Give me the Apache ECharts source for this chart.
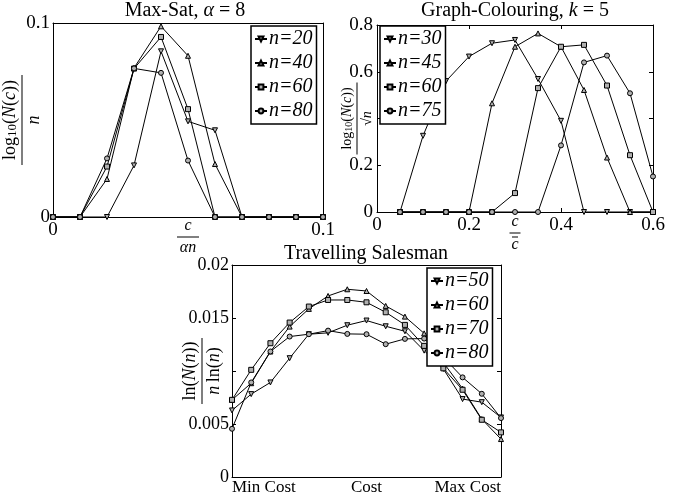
<!DOCTYPE html>
<html>
<head>
<meta charset="utf-8">
<script src="https://cdn.jsdelivr.net/npm/echarts@6/dist/echarts.min.js"></script>
<style>
  html, body { margin: 0; padding: 0; background: #fff; }
  #main { width: 689px; height: 498px; }
</style>
</head>
<body>
<div id="main"></div>
<script>
// Max-Sat, alpha = 8
var maxSatX = [0, 0.01, 0.02, 0.03, 0.04, 0.05, 0.06, 0.07, 0.08, 0.09, 0.1];
var maxSat20 = [0, 0, 0, 0.0266, 0.0854, 0.0493, 0.0447, 0, 0, 0, 0];
var maxSat40 = [0, 0, 0.0196, 0.0768, 0.0983, 0.0831, 0.0273, 0, 0, 0, 0];
var maxSat60 = [0, 0, 0.0260, 0.0765, 0.0928, 0.0556, 0, 0, 0, 0, 0];
var maxSat80 = [0, 0, 0.0302, 0.0766, 0.0743, 0.0291, 0, 0, 0, 0, 0];

// Graph-Colouring, k = 5
var gcX = [0.05, 0.1, 0.15, 0.2, 0.25, 0.3, 0.35, 0.4, 0.45, 0.5, 0.55, 0.6];
var gc30 = [0, 0.326, 0.56, 0.665, 0.722, 0.736, 0.569, 0.39, 0, 0, 0, 0];
var gc45 = [0, 0, 0, 0, 0.465, 0.707, 0.764, 0.707, 0.522, 0.233, 0, 0];
var gc60 = [0, 0, 0, 0, 0, 0.081, 0.53, 0.707, 0.715, 0.541, 0.243, 0];
var gc75 = [0, 0, 0, 0, 0, 0, 0, 0.285, 0.64, 0.669, 0.508, 0.152];

// Travelling Salesman (cost steps from min to max)
var tspX = [0, 1, 2, 3, 4, 5, 6, 7, 8, 9, 10, 11, 12, 13, 14];
var tspTickLabels = ['Min Cost', 'Cost', 'Max Cost'];
var tsp50 = [0.00628, 0.00782, 0.00892, 0.01121, 0.01347, 0.0136, 0.01432, 0.01476, 0.01422, 0.01375, 0.01192, 0.0102, 0.00735, 0.00706, 0.00562];
var tsp60 = [0.00728, 0.00885, 0.01184, 0.01419, 0.01586, 0.01708, 0.01771, 0.01755, 0.01614, 0.01513, 0.01355, 0.0108, 0.00834, 0.00546, 0.00358];
var tsp70 = [0.00728, 0.01011, 0.01262, 0.01457, 0.01608, 0.0167, 0.0167, 0.01648, 0.01554, 0.01435, 0.01237, 0.01025, 0.00823, 0.0054, 0.00421];
var tsp80 = [0.00455, 0.00892, 0.01184, 0.01325, 0.01347, 0.01381, 0.0135, 0.01347, 0.01253, 0.01303, 0.01306, 0.0113, 0.0094, 0.00785, 0.00556];

var SERIF = 'Liberation Serif';
var DOWN = 'path://M0,0L10,0L5,9Z';

function pairs(xs, ys) {
  return xs.map(function (x, i) { return [x, ys[i]]; });
}

function line(name, grid, xs, ys, symbol) {
  return {
    type: 'line',
    name: name,
    xAxisIndex: grid * 2,
    yAxisIndex: grid * 2,
    data: pairs(xs, ys),
    symbol: symbol,
    symbolSize: 5,
    showSymbol: true,
    lineStyle: { color: '#000', width: 1 },
    itemStyle: { color: '#b0b0b0', borderColor: '#000', borderWidth: 1 },
    emphasis: { disabled: true },
    animation: false,
    z: 3
  };
}

function lbl(size, margin) {
  return { fontFamily: SERIF, fontSize: size, color: '#000', margin: margin };
}
var axisLineStyle = { show: true, onZero: false, lineStyle: { color: '#000', width: 1 } };
var tickIn = { show: true, inside: true, length: 4, lineStyle: { color: '#000' } };

function mainX(grid, min, max, interval, extra) {
  return Object.assign({
    type: 'value', gridIndex: grid, position: 'bottom',
    min: min, max: max, interval: interval,
    axisLine: axisLineStyle, axisTick: tickIn,
    axisLabel: lbl(19, 4),
    splitLine: { show: false },
    nameMoveOverlap: false
  }, extra || {});
}
function mirrorX(grid, min, max, interval, ticks) {
  return {
    type: 'value', gridIndex: grid, position: 'top',
    min: min, max: max, interval: interval,
    axisLine: axisLineStyle,
    axisTick: Object.assign({}, tickIn, { show: ticks }),
    axisLabel: { show: false },
    splitLine: { show: false }
  };
}
function mainY(grid, min, max, interval, extra) {
  return Object.assign({
    type: 'value', gridIndex: grid, position: 'left',
    min: min, max: max, interval: interval,
    axisLine: axisLineStyle, axisTick: tickIn,
    axisLabel: lbl(19, 3),
    splitLine: { show: false },
    nameMoveOverlap: false
  }, extra || {});
}
function mirrorY(grid, min, max, interval) {
  return {
    type: 'value', gridIndex: grid, position: 'right',
    min: min, max: max, interval: interval,
    axisLine: axisLineStyle, axisTick: tickIn,
    axisLabel: { show: false },
    splitLine: { show: false }
  };
}

function fracRich(size, barWidth) {
  return {
    f: { fontFamily: SERIF, fontSize: size, color: '#000' },
    i: { fontFamily: SERIF, fontSize: size, fontStyle: 'italic', color: '#000' },
    sub: { fontFamily: SERIF, fontSize: Math.round(size * 0.7), color: '#000', verticalAlign: 'bottom' },
    bar: { width: barWidth, height: 1, lineHeight: 6, backgroundColor: '#000' },
    obar: { width: 6, height: 1, lineHeight: 2, backgroundColor: '#000' },
    ci: { fontFamily: SERIF, fontSize: size, fontStyle: 'italic', color: '#000', lineHeight: size * 0.8 }
  };
}

function legendFor(names, left, top) {
  return {
    data: names,
    left: left, top: top,
    orient: 'vertical',
    itemWidth: 12, itemHeight: 6, itemGap: 4,
    padding: [3, 4, 3, 3],
    backgroundColor: '#fff',
    borderColor: '#000', borderWidth: 1.5, borderRadius: 0,
    selectedMode: false,
    formatter: function (n) { return n.split('|')[1]; },
    textStyle: { fontFamily: SERIF, fontSize: 20, fontStyle: 'italic', color: '#000', padding: [0, 0, 0, -3] }
  };
}

var titleStyle = { fontFamily: SERIF, fontSize: 20, fontWeight: 'normal', color: '#000' };
var titleRich = {
  i: { fontFamily: SERIF, fontSize: 20, fontStyle: 'italic', color: '#000' }
};

var option = {
  backgroundColor: '#fff',
  animation: false,
  title: [
    { text: 'Max-Sat, {i|α} = 8', left: 185, top: 1, textAlign: 'center', padding: 0,
      textStyle: Object.assign({ rich: titleRich }, titleStyle) },
    { text: 'Graph-Colouring, {i|k} = 5', left: 515, top: 1, textAlign: 'center', padding: 0,
      textStyle: Object.assign({ rich: titleRich }, titleStyle) },
    { text: 'Travelling Salesman', left: 366, top: 244, textAlign: 'center', padding: 0,
      textStyle: titleStyle }
  ],
  grid: [
    { left: 48, top: 23, width: 275, height: 194 },
    { left: 377, top: 25, width: 276, height: 187 },
    { left: 232, top: 265, width: 269, height: 212 }
  ],
  xAxis: [
    mainX(0, 0, 0.1, 0.1, {
      name: '{i|c}\n{bar| }\n{i|αn}', nameLocation: 'middle', nameGap: 1,
      nameTextStyle: { rich: fracRich(16, 22) }
    }),
    mirrorX(0, 0, 0.1, 0.1, true),
    mainX(1, 0, 0.6, 0.2, {
      name: '{i|c}\n{bar| }\n{obar| }\n{ci|c}', nameLocation: 'middle', nameGap: 2,
      nameTextStyle: { rich: fracRich(16, 11) }
    }),
    mirrorX(1, 0, 0.6, 0.2, true),
    mainX(2, 0, 14, 7, {
      axisTick: { show: false },
      axisLabel: Object.assign(lbl(17, 2), {
        alignMinLabel: 'left', alignMaxLabel: 'right',
        formatter: function (v) { return tspTickLabels[Math.round(v / 7)]; }
      })
    }),
    mirrorX(2, 0, 14, 7, false)
  ],
  yAxis: [
    mainY(0, 0, 0.1, 0.1, {
      name: '{f|log}{sub|10}{f|(}{i|N}{f|(}{i|c}{f|))}\n{bar| }\n{i|n}',
      nameLocation: 'middle', nameGap: 10, nameRotate: 90,
      nameTextStyle: { rich: fracRich(18, 90) }
    }),
    mirrorY(0, 0, 0.1, 0.1),
    mainY(1, 0, 0.8, 0.2, {
      axisLabel: Object.assign(lbl(19, 4), {
        formatter: function (v) { return Math.abs(v - 0.4) < 1e-9 ? '' : String(v); }
      }),
      name: '{f|log}{sub|10}{f|(}{i|N}{f|(}{i|c}{f|))}\n{bar| }\n{f|√}{i|n}',
      nameLocation: 'middle', nameGap: 3, nameRotate: 90,
      nameTextStyle: { rich: fracRich(14, 72) }
    }),
    mirrorY(1, 0, 0.8, 0.2),
    mainY(2, 0, 0.02, 0.005, {
      axisLabel: Object.assign(lbl(18, 3), {
        formatter: function (v) { return Math.abs(v - 0.01) < 1e-12 ? '' : String(+v.toFixed(4)); }
      }),
      name: '{f|ln(}{i|N}{f|(}{i|n}{f|))}\n{bar| }\n{i|n} {f|ln(}{i|n}{f|)}',
      nameLocation: 'middle', nameGap: 9, nameRotate: 90,
      nameTextStyle: { rich: fracRich(18, 66) }
    }),
    mirrorY(2, 0, 0.02, 0.005)
  ],
  legend: [
    legendFor(['ms|n=20', 'ms|n=40', 'ms|n=60', 'ms|n=80'], 251, 26),
    legendFor(['gc|n=30', 'gc|n=45', 'gc|n=60', 'gc|n=75'], 380, 26),
    legendFor(['tsp|n=50', 'tsp|n=60', 'tsp|n=70', 'tsp|n=80'], 427, 268)
  ],
  series: [
    line('ms|n=20', 0, maxSatX, maxSat20, DOWN),
    line('ms|n=40', 0, maxSatX, maxSat40, 'triangle'),
    line('ms|n=60', 0, maxSatX, maxSat60, 'rect'),
    line('ms|n=80', 0, maxSatX, maxSat80, 'circle'),
    line('gc|n=30', 1, gcX, gc30, DOWN),
    line('gc|n=45', 1, gcX, gc45, 'triangle'),
    line('gc|n=60', 1, gcX, gc60, 'rect'),
    line('gc|n=75', 1, gcX, gc75, 'circle'),
    line('tsp|n=50', 2, tspX, tsp50, DOWN),
    line('tsp|n=60', 2, tspX, tsp60, 'triangle'),
    line('tsp|n=70', 2, tspX, tsp70, 'rect'),
    line('tsp|n=80', 2, tspX, tsp80, 'circle')
  ]
};

var myChart = echarts.init(document.getElementById('main'), null, { renderer: 'canvas' });
myChart.setOption(option);
</script>
</body>
</html>
